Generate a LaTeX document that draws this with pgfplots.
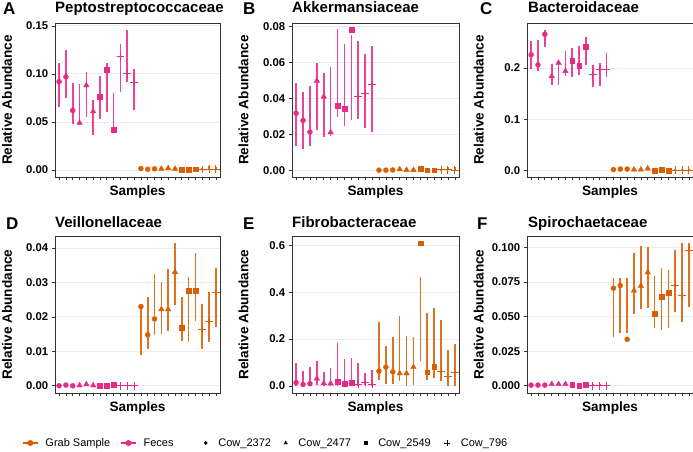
\documentclass[border=0pt]{standalone}
\usepackage{pgfplots}
\pgfplotsset{compat=1.18}
\usepackage{pgfplotstable}
\usepackage{fontspec}
\setmainfont{Liberation Sans}

\definecolor{grb}{HTML}{D95F02}
\definecolor{fec}{HTML}{E7298A}
\definecolor{framec}{HTML}{333333}
\definecolor{gridc}{HTML}{EBEBEB}

\newcommand\tickfont{\bfseries\fontsize{11.3}{12}\selectfont}
\newcommand\labfont{\bfseries\fontsize{13.6}{15}\selectfont}
\newcommand\titfont{\bfseries\fontsize{15}{17}\selectfont}
\newcommand\letfont{\bfseries\fontsize{17}{19}\selectfont}
\newcommand\legfont{\fontsize{11}{12}\selectfont}

% columns: sample, value, lower, upper  (1-12 feces, 13-24 grab sample)
\pgfplotstableread{
x y lo hi
1 0.092 0.066 0.111
2 0.097 0.075 0.125
3 0.062 0.048 0.091
4 0.049 0.047 0.089
5 0.088 0.0555 0.102
6 0.061 0.036 0.073
7 0.076 0.053 0.098
8 0.104 0.060 0.111
9 0.042 0.042 0.080
10 0.118 0.081 0.131
11 0.100 0.092 0.146
12 0.091 0.062 0.105
13 0.0015 0.0005 0.003
14 0.0008 0.0 0.002
15 0.0012 0.0005 0.002
16 0.0012 0.0005 0.002
17 0.0018 0.001 0.003
18 0.0012 0.0005 0.002
19 0.0 0.0 0.001
20 0.0 0.0 0.002
21 0.0008 0.0005 0.0015
22 0.0005 0.0 0.002
23 0.001 0.0 0.004
24 0.001 0.0 0.003
}\tabA

\pgfplotstableread{
x y lo hi
1 0.0317 0.0134 0.0483
2 0.0277 0.0121 0.0437
3 0.0213 0.0134 0.0468
4 0.0497 0.0226 0.0596
5 0.0409 0.0183 0.0541
6 0.0211 0.0189 0.0574
7 0.0358 0.0295 0.0782
8 0.0341 0.0248 0.0703
9 0.0782 0.0277 0.0749
10 0.0411 0.0284 0.0716
11 0.0429 0.0235 0.0648
12 0.0477 0.0211 0.0688
13 0.0001 0 0.0008
14 0.0001 0 0.0006
15 0.0002 0 0.0015
16 0.0006 0 0.0020
17 0.0002 0 0.0008
18 0.0002 0 0.0006
19 0.0011 0.0003 0.0016
20 0.0001 0 0.0005
21 0.0001 0 0.0004
22 0.0003 0 0.0008
23 0.0002 0 0.0016
24 0.0000 0 0.0016
}\tabB

\pgfplotstableread{
x y lo hi
1 0.226 0.199 0.252
2 0.206 0.195 0.255
3 0.266 0.241 0.275
4 0.184 0.166 0.208
5 0.210 0.166 0.215
6 0.194 0.184 0.233
7 0.214 0.183 0.239
8 0.205 0.186 0.244
9 0.241 0.206 0.261
10 0.188 0.162 0.206
11 0.197 0.165 0.210
12 0.197 0.183 0.230
13 0.0015 0.0005 0.003
14 0.0025 0.001 0.004
15 0.0025 0.001 0.004
16 0.0015 0 0.003
17 0.0015 0 0.003
18 0.0035 0.001 0.005
19 0.0 0 0.002
20 0.0015 0 0.003
21 0.0 0 0.002
22 0.0 0 0.002
23 0.0 0 0.002
24 0.0005 0 0.003
}\tabC

\pgfplotstableread{
x y lo hi
1 0.0000 0 0.0002
2 0.0002 0 0.0004
3 0.0000 0 0.0002
4 0.0001 0 0.0003
5 0.0004 0.0001 0.0007
6 0.0001 0 0.0003
7 0.0001 0 0.0003
8 0.0001 0 0.0003
9 0.0004 0.0001 0.0006
10 0.0000 0 0.0003
11 0.0000 0 0.0003
12 0.0000 0 0.0003
13 0.0230 0.0089 0.0234
14 0.0148 0.0108 0.0258
15 0.0194 0.0147 0.0324
16 0.0222 0.0150 0.0301
17 0.0222 0.0159 0.0339
18 0.0330 0.0236 0.0414
19 0.0168 0.0130 0.0258
20 0.0276 0.0128 0.0316
21 0.0277 0.0188 0.0386
22 0.0164 0.0108 0.0237
23 0.0187 0.0128 0.0272
24 0.0270 0.0171 0.0342
}\tabD

\pgfplotstableread{
x y lo hi
1 0.014 0 0.096
2 0.006 0 0.063
3 0.009 0 0.081
4 0.031 0.005 0.107
5 0.011 0 0.060
6 0.010 0 0.077
7 0.017 0 0.184
8 0.009 0 0.114
9 0.013 0 0.121
10 0.007 0 0.097
11 0.016 0.003 0.056
12 0.007 0 0.067
13 0.063 0.024 0.274
14 0.080 0.006 0.170
15 0.060 0.006 0.207
16 0.053 0.021 0.298
17 0.053 0 0.212
18 0.080 0.003 0.207
19 0.609 0.105 0.466
20 0.058 0.024 0.309
21 0.083 0.034 0.331
22 0.061 0.020 0.281
23 0.038 0 0.155
24 0.058 0 0.178
}\tabE

\pgfplotstableread{
x y lo hi
1 0.0005 0 0.001
2 0.0005 0 0.001
3 0.0005 0 0.001
4 0.0012 0.0005 0.002
5 0.0012 0.0005 0.002
6 0.0012 0.0005 0.002
7 0.0008 0 0.0015
8 0.0002 0 0.001
9 0.0008 0 0.0015
10 0.0 0 0.0012
11 0.0 0 0.0012
12 0.0 0 0.0012
13 0.0705 0.0355 0.0778
14 0.0725 0.0379 0.0778
15 0.0336 0.0384 0.0778
16 0.0688 0.0519 0.0959
17 0.0722 0.0553 0.1007
18 0.0819 0.0565 0.1002
19 0.0522 0.0415 0.0795
20 0.0645 0.0403 0.0850
21 0.0674 0.0420 0.0833
22 0.0725 0.0536 0.0978
23 0.0650 0.0464 0.1030
24 0.0978 0.0572 0.1030
}\tabF

\pgfplotsset{
  panel/.style={
    scale only axis, width=165pt, height=154pt,
    xmin=0.4, xmax=24.6,
    xtick={1,...,24}, xticklabels={},
    xtick pos=bottom, ytick pos=left, tick align=outside,
    major tick length=3.3pt, scaled y ticks=false,
    tick style={color=framec, line width=0.7pt},
    axis line style={framec, line width=0.6pt},
    ymajorgrids, major grid style={gridc, line width=0.9pt},
    yticklabel style={font=\tickfont, text=black},
    xlabel={Samples}, ylabel={Relative Abundance},
    xlabel style={at={(rel axis cs:0.5,0)}, anchor=base, yshift=-18pt, font=\labfont},
    ylabel style={at={(rel axis cs:-0.291,0.5)}, anchor=center, font=\labfont},
  },
  errb/.style={only marks, mark size=0pt, mark options={draw=none, fill=none}, forget plot,
    error bars/.cd, y dir=both, y explicit, error mark=none,
    error bar style={draw=#1, line width=1.6pt, opacity=0.88}},
}

% one panel: bars for both sample types, then one mark per cow
\newcommand{\drawpanel}[1]{%
  \addplot[restrict x to domain=1:12, errb=fec] table[x=x, y expr={(\thisrow{lo}+\thisrow{hi})/2}, y error expr={(\thisrow{hi}-\thisrow{lo})/2}] {#1};
  \addplot[restrict x to domain=13:24, errb=grb] table[x=x, y expr={(\thisrow{lo}+\thisrow{hi})/2}, y error expr={(\thisrow{hi}-\thisrow{lo})/2}] {#1};
  \addplot[only marks, fec, mark=*, mark size=2.5pt, restrict x to domain=1:3] table[x=x, y=y] {#1};
  \addplot[only marks, fec, mark=triangle*, mark size=3.2pt, restrict x to domain=4:6] table[x=x, y=y] {#1};
  \addplot[only marks, fec, mark=square*, mark size=2.4pt, restrict x to domain=7:9] table[x=x, y=y] {#1};
  \addplot[only marks, fec, mark=+, mark size=3.9pt, mark options={line width=1pt}, restrict x to domain=10:12] table[x=x, y=y] {#1};
  \addplot[only marks, grb, mark=*, mark size=2.5pt, restrict x to domain=13:15] table[x=x, y=y] {#1};
  \addplot[only marks, grb, mark=triangle*, mark size=3.2pt, restrict x to domain=16:18] table[x=x, y=y] {#1};
  \addplot[only marks, grb, mark=square*, mark size=2.4pt, restrict x to domain=19:21] table[x=x, y=y] {#1};
  \addplot[only marks, grb, mark=+, mark size=3.9pt, mark options={line width=1pt}, restrict x to domain=22:24] table[x=x, y=y] {#1};
}

\begin{document}
\begin{tikzpicture}
\useasboundingbox (0,0) rectangle (693pt,451pt);

\begin{axis}[panel, at={(55pt,274pt)}, anchor=south west,
  ymin=-0.0073, ymax=0.153, ytick={0,0.05,0.1,0.15}, yticklabels={0.00,0.05,0.10,0.15}]
\drawpanel{\tabA}
\end{axis}

\begin{axis}[panel, width=167pt, at={(292pt,274pt)}, anchor=south west,
  ymin=-0.0037, ymax=0.0818, ytick={0,0.02,0.04,0.06,0.08}, yticklabels={0.00,0.02,0.04,0.06,0.08}]
\drawpanel{\tabB}
\end{axis}

\begin{axis}[panel, width=166pt, at={(527pt,274pt)}, anchor=south west,
  ymin=-0.013, ymax=0.288, ytick={0,0.1,0.2}, yticklabels={0.0,0.1,0.2}]
\drawpanel{\tabC}
\end{axis}

\begin{axis}[panel, height=157pt, at={(55pt,58pt)}, anchor=south west,
  ymin=-0.0021, ymax=0.0435, ytick={0,0.01,0.02,0.03,0.04}, yticklabels={0.00,0.01,0.02,0.03,0.04}]
\drawpanel{\tabD}
\end{axis}

\begin{axis}[panel, width=167pt, height=157pt, at={(292pt,58pt)}, anchor=south west,
  ymin=-0.0305, ymax=0.6395, ytick={0,0.2,0.4,0.6}, yticklabels={0.0,0.2,0.4,0.6}]
\drawpanel{\tabE}
\end{axis}

\begin{axis}[panel, width=166pt, height=157pt, at={(527pt,58pt)}, anchor=south west,
  ymin=-0.0052, ymax=0.1082, ytick={0,0.025,0.05,0.075,0.1}, yticklabels={0.000,0.025,0.050,0.075,0.100}]
\drawpanel{\tabF}
\end{axis}

% legends
\begin{axis}[hide axis, scale only axis, width=693pt, height=451pt, at={(0pt,0pt)}, anchor=south west,
  xmin=0, xmax=1, ymin=0, ymax=1,
  legend style={at={(0.0317,0.0177)}, anchor=west, draw=none, fill=none, inner sep=0pt,
    font=\legfont, legend columns=-1,
    /tikz/every odd column/.append style={column sep=5pt},
    /tikz/every even column/.append style={column sep=8pt}},
  legend image code/.code={\draw[mark repeat=2, mark phase=2, #1] plot coordinates {(0pt,0pt) (7.5pt,0pt) (15pt,0pt)};}]
\addlegendimage{grb, line width=1.3pt, mark=*, mark size=2.3pt}
\addlegendentry{Grab Sample}
\addlegendimage{fec, line width=1.3pt, mark=*, mark size=2.3pt}
\addlegendentry{Feces}
\end{axis}

\begin{axis}[hide axis, scale only axis, width=693pt, height=451pt, at={(0pt,0pt)}, anchor=south west,
  xmin=0, xmax=1, ymin=0, ymax=1,
  legend style={at={(0.2944,0.0177)}, anchor=west, draw=none, fill=none, inner sep=0pt,
    font=\legfont, legend columns=-1,
    /tikz/every odd column/.append style={column sep=9pt},
    /tikz/every even column/.append style={column sep=11pt}},
  legend image code/.code={\draw[#1] plot coordinates {(0pt,0pt)};}]
\addlegendimage{only marks, black, mark=*, mark size=1.6pt}
\addlegendentry{Cow\_2372}
\addlegendimage{only marks, black, mark=triangle*, mark size=2pt}
\addlegendentry{Cow\_2477}
\addlegendimage{only marks, black, mark=square*, mark size=1.6pt}
\addlegendentry{Cow\_2549}
\addlegendimage{only marks, black, mark=+, mark size=3pt, mark options={line width=0.5pt}}
\addlegendentry{Cow\_796}
\end{axis}

% panel titles and letters
\node[anchor=base west, font=\titfont, inner sep=0pt] at (55pt,438pt) {Peptostreptococcaceae};
\node[anchor=base west, font=\titfont, inner sep=0pt] at (292pt,438pt) {Akkermansiaceae};
\node[anchor=base west, font=\titfont, inner sep=0pt] at (528pt,438pt) {Bacteroidaceae};
\node[anchor=base west, font=\titfont, inner sep=0pt] at (55pt,224pt) {Veillonellaceae};
\node[anchor=base west, font=\titfont, inner sep=0pt] at (292pt,224pt) {Fibrobacteraceae};
\node[anchor=base west, font=\titfont, inner sep=0pt] at (528pt,224pt) {Spirochaetaceae};
\node[anchor=base west, font=\letfont, inner sep=0pt] at (3pt,436pt) {A};
\node[anchor=base west, font=\letfont, inner sep=0pt] at (243pt,436pt) {B};
\node[anchor=base west, font=\letfont, inner sep=0pt] at (480pt,436pt) {C};
\node[anchor=base west, font=\letfont, inner sep=0pt] at (6pt,222pt) {D};
\node[anchor=base west, font=\letfont, inner sep=0pt] at (243pt,222pt) {E};
\node[anchor=base west, font=\letfont, inner sep=0pt] at (477pt,222pt) {F};
\end{tikzpicture}
\end{document}
